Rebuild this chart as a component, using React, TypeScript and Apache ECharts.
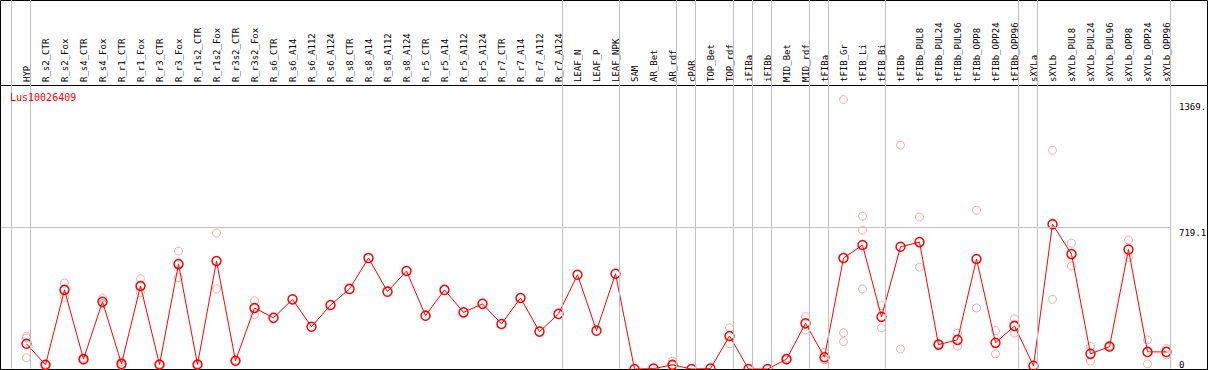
import React, { useEffect, useRef } from "react";
import * as echarts from "echarts";

const title = "Lus10026409";

const categories = [
  "HYP", "R_s2_CTR", "R_s2_Fox", "R_s4_CTR", "R_s4_Fox", "R_r1_CTR", "R_r1_Fox",
  "R_r3_CTR", "R_r3_Fox", "R_r1s2_CTR", "R_r1s2_Fox", "R_r3s2_CTR", "R_r3s2_Fox",
  "R_s6_CTR", "R_s6_A14", "R_s6_A112", "R_s6_A124", "R_s8_CTR", "R_s8_A14",
  "R_s8_A112", "R_s8_A124", "R_r5_CTR", "R_r5_A14", "R_r5_A112", "R_r5_A124",
  "R_r7_CTR", "R_r7_A14", "R_r7_A112", "R_r7_A124", "LEAF_N", "LEAF_P", "LEAF_NPK",
  "SAM", "AR_Bet", "AR_rdf", "cPAR", "TOP_Bet", "TOP_rdf", "iFIBa", "iFIBb",
  "MID_Bet", "MID_rdf", "tFIBa", "tFIB_Gr", "tFIB_Li", "tFIB_Bi", "tFIBb",
  "tFIBb_PUL8", "tFIBb_PUL24", "tFIBb_PUL96", "tFIBb_OPP8", "tFIBb_OPP24",
  "tFIBb_OPP96", "sXYLa", "sXYLb", "sXYLb_PUL8", "sXYLb_PUL24", "sXYLb_PUL96",
  "sXYLb_OPP8", "sXYLb_OPP24", "sXYLb_OPP96",
];

const meanValues = [
  128, 21, 402, 50, 342, 26, 422, 23, 533, 23, 549, 42, 310,
  260, 354, 215, 325, 407, 564, 393, 498, 271, 402, 288, 331,
  229, 361, 190, 280, 479, 195, 484,
  0, 2, 21, 0, 2, 168, 0, 0, 50, 232, 60,
  564, 630, 265, 621, 645, 124, 148, 559, 133, 219,
  16, 736, 584, 77, 114, 607, 87, 87,
];

const replicateValues: number[][] = [
  [166, 158, 57], [25, 17], [437, 405, 364], [55, 45], [361, 334, 331],
  [36, 16], [459, 420, 388], [25, 21], [599, 535, 465], [27, 19],
  [691, 407], [45, 39], [347, 308, 276],
  [], [], [], [], [], [], [], [], [], [], [], [], [], [], [], [], [], [], [],
  [], [], [40, 4, 19], [], [], [209, 128], [], [], [54, 46], [266, 199],
  [85, 47, 48], [1369, 184, 139], [777, 706, 407], [322, 209], [1137, 102],
  [772, 518], [128, 120], [182, 116], [807, 310], [195, 77], [255, 182],
  [], [1111, 354], [640, 523], [114, 40], [118, 110], [655, 567], [148, 26],
  [104, 72],
];

// index of the first category of each group (vertical separators)
const groupStarts = [0, 1, 29, 32, 35, 36, 38, 39, 40, 42, 43, 46, 53, 54, 61];

const yGridValue = 719.1;
const yUpperTicks = [719.1, 1369];
const yUpperLabels = ["719.1", "1369."];
const yLowerTicks = [0];
const yLowerLabels = ["0"];

const W = 1209;
const H = 370;
const mono = "DejaVu Sans Mono";
const step = 19;
const firstX = 26.5;
const plotLeft = 1;
const plotRight = 1171;
const xMin = (plotLeft - firstX) / step;
const xMax = (plotRight - firstX) / step;
const zeroY = 369;
const pxPerUnit = (369 - 227.5) / 719.1;
const plotTop = 85.5;
const yMax = (zeroY - plotTop) / pxPerUnit;
const sepOffset = 15 / 19;

export default function App() {
  const ref = useRef<HTMLDivElement>(null);
  useEffect(() => {
    const chart = echarts.init(ref.current!, undefined, { renderer: "svg", width: W, height: H });
    const meanData = meanValues.map((v, i) => [i, v]);
    const repData: number[][] = [];
    replicateValues.forEach((arr, i) => arr.forEach((v) => repData.push([i, v])));
    const hidden = { show: false };
    const option: any = {
      animation: false,
      backgroundColor: "#ffffff",
      title: {
        text: title,
        left: 10,
        top: 92,
        padding: 0,
        textStyle: { color: "#ff0000", fontSize: 10, fontWeight: "normal", fontFamily: mono },
      },
      grid: [
        { left: 0.5, top: 0.5, right: 1.5, bottom: 0.5, show: true, borderColor: "#000", borderWidth: 1, backgroundColor: "transparent", outerBoundsMode: "none" },
        { left: 0.5, top: 85.5, right: 1.5, bottom: 0.5, show: true, borderColor: "#000", borderWidth: 1, backgroundColor: "transparent", outerBoundsMode: "none" },
        { left: plotLeft, right: W - plotRight, top: 0, bottom: H - zeroY, outerBoundsMode: "none" },
        { left: plotLeft, right: W - plotRight, top: plotTop, bottom: H - zeroY, outerBoundsMode: "none" },
        { left: firstX, right: W - (firstX + step * (categories.length - 1)), top: 0, bottom: H - 85, outerBoundsMode: "none" },
      ],
      xAxis: [
        { gridIndex: 0, type: "value", min: 0, max: 1, show: false },
        { gridIndex: 1, type: "value", min: 0, max: 1, show: false },
        { gridIndex: 2, type: "value", min: xMin, max: xMax, show: false },
        { gridIndex: 3, type: "value", min: xMin, max: xMax, show: false },
        {
          gridIndex: 4,
          type: "category",
          data: categories,
          boundaryGap: false,
          position: "bottom",
          axisLine: hidden,
          axisTick: hidden,
          splitLine: hidden,
          axisLabel: {
            inside: true,
            rotate: 90,
            margin: 3,
            interval: 0,
            hideOverlap: false,
            fontSize: 9,
            fontFamily: mono,
            color: "#000",
          },
        },
      ],
      yAxis: [
        { gridIndex: 0, type: "value", min: 0, max: 1, show: false },
        { gridIndex: 1, type: "value", min: 0, max: 1, show: false },
        { gridIndex: 2, type: "value", min: 0, max: 1, show: false },
        {
          gridIndex: 3,
          type: "value",
          position: "right",
          min: 0,
          max: yMax,
          axisLine: hidden,
          axisTick: hidden,
          splitLine: hidden,
          axisLabel: {
            customValues: yUpperTicks,
            formatter: (v: number) => {
              const s = yUpperLabels[yUpperTicks.indexOf(v)] ?? String(v);
              return v === yUpperTicks[yUpperTicks.length - 1] ? "{top|" + s + "}" : "{mid|" + s + "}";
            },
            rich: {
              top: { padding: [3, 0, 0, 0], fontSize: 9, fontFamily: mono, color: "#000" },
              mid: { padding: [1, 0, 0, 0], fontSize: 9, fontFamily: mono, color: "#000" },
            },
            verticalAlign: "top",
            align: "left",
            margin: 8,
            fontSize: 9,
            fontFamily: mono,
            color: "#000",
          },
        },
        {
          gridIndex: 3,
          type: "value",
          position: "right",
          min: 0,
          max: yMax,
          axisLine: hidden,
          axisTick: hidden,
          splitLine: hidden,
          axisLabel: {
            customValues: yLowerTicks,
            formatter: (v: number) => yLowerLabels[yLowerTicks.indexOf(v)] ?? String(v),
            verticalAlign: "bottom",
            align: "left",
            margin: 8,
            fontSize: 9,
            fontFamily: mono,
            color: "#000",
          },
        },
        { gridIndex: 4, type: "value", min: 0, max: 1, show: false },
      ],
      series: [
        {
          type: "line",
          xAxisIndex: 2,
          yAxisIndex: 2,
          data: [],
          z: 1,
          silent: true,
          markLine: {
            silent: true,
            symbol: "none",
            label: { show: false },
            lineStyle: { color: "#c0c0c0", width: 1, type: "solid" },
            data: groupStarts.map((k) => ({ xAxis: k - sepOffset })),
          },
        },
        {
          type: "line",
          xAxisIndex: 3,
          yAxisIndex: 3,
          data: [],
          z: 1,
          silent: true,
          markLine: {
            silent: true,
            symbol: "none",
            label: { show: false },
            lineStyle: { color: "#c0c0c0", width: 1, type: "solid" },
            data: [{ yAxis: yGridValue }],
          },
        },
        {
          type: "scatter",
          xAxisIndex: 3,
          yAxisIndex: 3,
          data: repData,
          z: 2,
          symbol: "circle",
          symbolSize: 8,
          itemStyle: { color: "rgba(255,255,255,0)", borderColor: "#f09696", borderWidth: 1 },
          silent: true,
        },
        {
          type: "line",
          xAxisIndex: 3,
          yAxisIndex: 3,
          data: meanData,
          z: 3,
          symbol: "circle",
          symbolSize: 9,
          showAllSymbol: true,
          lineStyle: { color: "#ff0000", width: 1 },
          itemStyle: { color: "rgba(255,255,255,0)", borderColor: "#ff0000", borderWidth: 1.5 },
          silent: true,
        },
      ],
    };
    chart.setOption(option);
    return () => chart.dispose();
  }, []);
  return (
    <div
      ref={ref}
      style={{ position: "absolute", left: 0, top: 0, width: W, height: H, background: "#fff" }}
    />
  );
}
